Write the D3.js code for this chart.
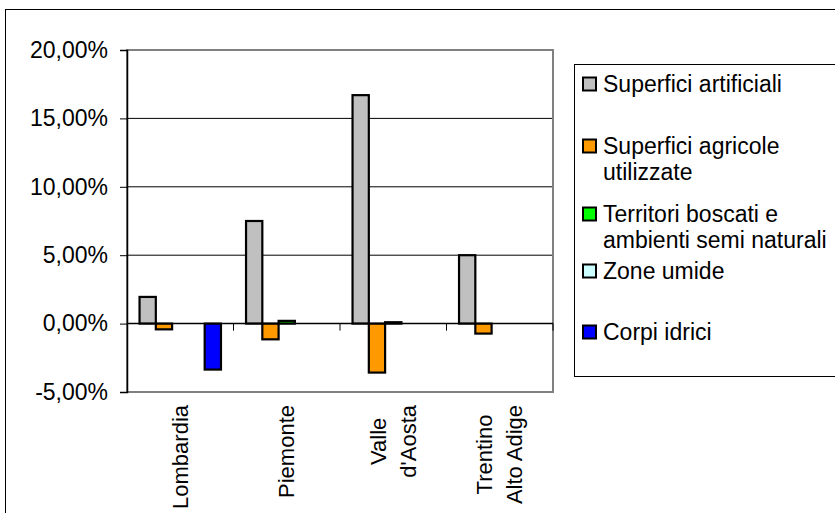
<!DOCTYPE html>
<html>
<head>
<meta charset="utf-8">
<script src="https://cdn.jsdelivr.net/npm/d3@7"></script>
<style>
  body { margin: 0; background: #fff; }
  text { font-family: "Liberation Sans", Arial, sans-serif; fill: #000; }
</style>
</head>
<body>
<svg id="chart" width="835" height="513"></svg>
<script>
// Regions (x categories), each label split into lines
const regions = ["Lombardia", "Piemonte", "Valle d'Aosta", "Trentino Alto Adige"];
const regionLines = [["Lombardia"], ["Piemonte"], ["Valle", "d'Aosta"], ["Trentino", "Alto Adige"]];

// Land-use series
const series = ["Superfici artificiali", "Superfici agricole utilizzate", "Territori boscati e ambienti semi naturali", "Zone umide", "Corpi idrici"];
const seriesLines = [["Superfici artificiali"], ["Superfici agricole", "utilizzate"], ["Territori boscati e", "ambienti semi naturali"], ["Zone umide"], ["Corpi idrici"]];
const seriesColors = ["#C0C0C0", "#FF9900", "#00FF00", "#CCFFFF", "#0000FF"];

// Percent change per series, one value per region (null = no bar)
const artificiali = [1.95, 7.5, 16.7, 5.0];
const agricole = [-0.42, -1.15, -3.58, -0.73];
const boscati = [null, 0.2, 0.1, null];
const umide = [null, null, null, null];
const idrici = [-3.36, null, null, null];
const values = [artificiali, agricole, boscati, umide, idrici];

const yTicks = [-5, 0, 5, 10, 15, 20];

const svg = d3.select("#chart");
const fs = 23;      // tick and legend text
const catFs = 22;   // category labels

// Plot area
const plotLeft = 127, plotRight = 553, plotTop = 50, plotBottom = 392;

const x0 = d3.scaleBand().domain(regions).range([plotLeft, plotRight]).padding(0);
const x1 = d3.scaleBand().domain(series)
    .range([0, x0.bandwidth()])
    .paddingInner(0).paddingOuter(0.77);
const y = d3.scaleLinear().domain([-5, 20]).range([plotBottom, plotTop]);

const itLocale = d3.formatLocale({ decimal: ",", thousands: ".", grouping: [3], currency: ["", "€"], minus: "-" });
const fmt = v => itLocale.format(".2f")(v) + "%";

// Outer chart frame (runs off right and bottom)
svg.append("rect")
    .attr("x", 5.5).attr("y", 9.5)
    .attr("width", 900).attr("height", 600)
    .attr("fill", "none").attr("stroke", "#000").attr("stroke-width", 1);

// Gridlines
svg.append("g").selectAll("line")
    .data(yTicks.filter(d => d > 0))
    .join("line")
    .attr("x1", plotLeft).attr("x2", plotRight)
    .attr("y1", d => y(d)).attr("y2", d => y(d))
    .attr("stroke", "#000").attr("stroke-width", 1);

// Plot area border
svg.append("rect")
    .attr("x", plotLeft).attr("y", plotTop)
    .attr("width", plotRight - plotLeft).attr("height", plotBottom - plotTop)
    .attr("fill", "none").attr("stroke", "#808080").attr("stroke-width", 2);

// Bars
const bars = [];
values.forEach((vals, si) => {
    vals.forEach((v, ri) => {
        if (v !== null) bars.push({ s: si, r: ri, v: v });
    });
});
svg.append("g").selectAll("rect")
    .data(bars)
    .join("rect")
    .attr("x", d => x0(regions[d.r]) + x1(series[d.s]))
    .attr("width", x1.bandwidth())
    .attr("y", d => y(Math.max(0, d.v)))
    .attr("height", d => Math.abs(y(d.v) - y(0)))
    .attr("fill", d => seriesColors[d.s])
    .attr("stroke", "#000").attr("stroke-width", 2.2);

// Y axis
const yAxis = d3.axisLeft(y).tickValues(yTicks).tickSize(7).tickPadding(12).tickFormat(fmt);
const gy = svg.append("g").attr("transform", `translate(${plotLeft},0)`).call(yAxis);
gy.select(".domain").attr("stroke", "#000").attr("stroke-width", 1.5);
gy.selectAll(".tick line").attr("stroke", "#000");
gy.selectAll(".tick text").attr("font-size", fs).attr("font-family", "Liberation Sans, Arial, sans-serif");

// Zero line with category boundary ticks
svg.append("line")
    .attr("x1", plotLeft).attr("x2", plotRight)
    .attr("y1", y(0)).attr("y2", y(0))
    .attr("stroke", "#000").attr("stroke-width", 1.5);
svg.append("g").selectAll("line")
    .data(regions)
    .join("line")
    .attr("x1", d => x0(d) + x0.bandwidth())
    .attr("x2", d => x0(d) + x0.bandwidth())
    .attr("y1", y(0)).attr("y2", y(0) + 7)
    .attr("stroke", "#000").attr("stroke-width", 1);

// Category labels, rotated, lines centered with block top at a fixed line
const labelTop = 405, lineGap = 30;
regionLines.forEach((lines, ri) => {
    const cx = x0(regions[ri]) + x0.bandwidth() / 2;
    const g = svg.append("g");
    const texts = g.selectAll("text").data(lines).join("text")
        .attr("font-size", catFs)
        .attr("text-anchor", "middle")
        .attr("dy", "0.35em")
        .text(d => d);
    let maxLen = 0;
    texts.each(function () { maxLen = Math.max(maxLen, this.getComputedTextLength()); });
    const cy = labelTop + maxLen / 2;
    texts.attr("transform", (d, i) => {
        const lx = cx + (i - (lines.length - 1) / 2) * lineGap;
        return `translate(${lx},${cy}) rotate(-90)`;
    });
});

// Legend
const legX = 574, legY = 64, legH = 312;
svg.append("rect")
    .attr("x", legX + 0.5).attr("y", legY + 0.5)
    .attr("width", 300).attr("height", legH)
    .attr("fill", "#fff").attr("stroke", "#000").attr("stroke-width", 1);

const legendRowY = [84, 146, 214, 271, 332];
const legLineH = 26;
const leg = svg.append("g").selectAll("g")
    .data(series)
    .join("g")
    .attr("transform", (d, i) => `translate(${legX + 9},${legendRowY[i]})`);
leg.append("rect")
    .attr("x", 0).attr("y", -6.5).attr("width", 13).attr("height", 13)
    .attr("fill", (d, i) => seriesColors[i])
    .attr("stroke", "#000").attr("stroke-width", 2);
leg.each(function (d, i) {
    d3.select(this).selectAll("text")
        .data(seriesLines[i])
        .join("text")
        .attr("x", 20)
        .attr("y", (t, j) => j * legLineH)
        .attr("dy", "0.35em")
        .attr("font-size", fs)
        .text(t => t);
});
</script>
</body>
</html>
